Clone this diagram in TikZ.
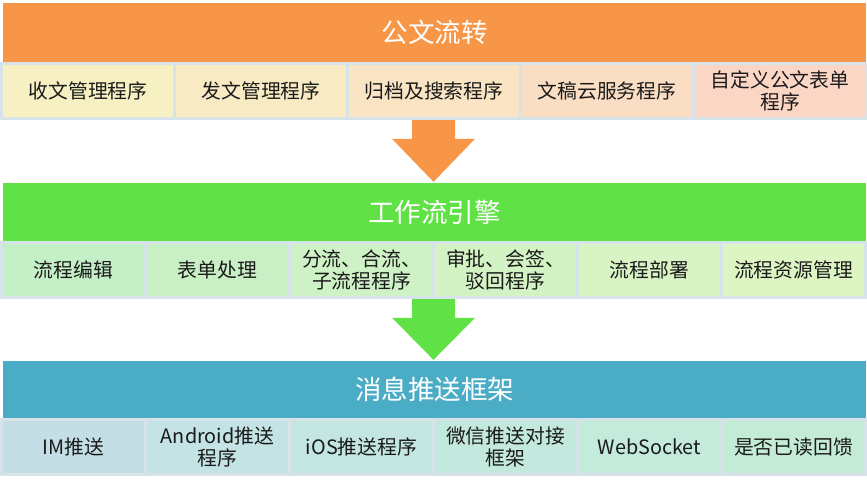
\documentclass[tikz,border=0pt]{standalone}
\usepackage{fontspec}
\setmainfont{Noto Sans CJK SC}
\usetikzlibrary{calc}

\definecolor{hdorange}{HTML}{F79646}
\definecolor{hdgreen}{HTML}{60E246}
\definecolor{hdblue}{HTML}{4BACC6}
\definecolor{edgeblue}{HTML}{D6E3E8}
\definecolor{txtdark}{HTML}{1A1A1A}

\tikzset{
    head/.style={minimum width=863pt, minimum height=59pt, inner sep=0pt,
        text=white, font=\fontsize{26.5}{30}\selectfont},
    band/.style={fill=edgeblue, minimum width=867pt, inner sep=0pt},
    cell/.style={draw=edgeblue, line width=3pt, minimum height=55pt, inner sep=0pt,
        align=center, text=txtdark, font=\fontsize{19.8}{22}\selectfont},
    wide/.style={cell, minimum width=173pt},
    narrow/.style={cell, minimum width=144pt},
}

\begin{document}
\begin{tikzpicture}[x=1pt, y=-1pt]
    \useasboundingbox (0,0) rectangle (867,484);

    % 公文流转
    \node[head, fill=hdorange] (hd1) at (434.5,32.5) {公文流转};
    \node[band, minimum height=58pt] (row1) at (433.5,91) {};
    \node[wide, fill={rgb,255:red,246;green,240;blue,194}] (gw1) at (88,91) {收文管理程序};
    \node[wide, fill={rgb,255:red,248;green,235;blue,195}] (gw2) at (261,91) {发文管理程序};
    \node[wide, fill={rgb,255:red,249;green,228;blue,195}] (gw3) at (434,91) {归档及搜索程序};
    \node[wide, fill={rgb,255:red,250;green,222;blue,196}] (gw4) at (607,91) {文稿云服务程序};
    \node[wide, fill={rgb,255:red,251;green,214;blue,197}] (gw5) at (780,91) {自定义公文表单\\程序};

    % 工作流引擎
    \node[head, fill=hdgreen] (hd2) at (434.5,212.5) {工作流引擎};
    \node[band, minimum height=58pt] (row2) at (433.5,270) {};
    \node[narrow, fill={rgb,255:red,197;green,239;blue,198}] (wf1) at (73.5,270) {流程编辑};
    \node[narrow, fill={rgb,255:red,201;green,240;blue,197}] (wf2) at (217.5,270) {表单处理};
    \node[narrow, fill={rgb,255:red,206;green,241;blue,197}] (wf3) at (361.5,270) {分流、合流、\\子流程程序};
    \node[narrow, fill={rgb,255:red,211;green,243;blue,196}] (wf4) at (505.5,270) {审批、会签、\\驳回程序};
    \node[narrow, fill={rgb,255:red,216;green,244;blue,196}] (wf5) at (649.5,270) {流程部署};
    \node[narrow, fill={rgb,255:red,221;green,245;blue,195}] (wf6) at (793.5,270) {流程资源管理};

    % 消息推送框架
    \node[head, fill=hdblue, minimum height=57pt] (hd3) at (434.5,389.5) {消息推送框架};
    \node[band, minimum height=58pt] (row3) at (433.5,447) {};
    \node[narrow, fill={rgb,255:red,196;green,222;blue,230}] (ms1) at (73.5,447) {IM推送};
    \node[narrow, fill={rgb,255:red,195;green,227;blue,228}] (ms2) at (217.5,447) {Android推送\\程序};
    \node[narrow, fill={rgb,255:red,195;green,230;blue,226}] (ms3) at (361.5,447) {iOS推送程序};
    \node[narrow, fill={rgb,255:red,195;green,232;blue,222}] (ms4) at (505.5,447) {微信推送对接\\框架};
    \node[narrow, fill={rgb,255:red,195;green,234;blue,219}] (ms5) at (649.5,447) {WebSocket};
    \node[narrow, fill={rgb,255:red,196;green,235;blue,214}] (ms6) at (793.5,447) {是否已读回馈};

    % block arrows
    \fill[hdorange] ($(row1.south)+(-21.5,0)$) -- ($(row1.south)+(21.5,0)$)
        -- ($(hd2.north)+(20.5,-44)$) -- ($(hd2.north)+(40.5,-44)$) -- ($(hd2.north)+(-1,-1)$)
        -- ($(hd2.north)+(-42.5,-44)$) -- ($(hd2.north)+(-22.5,-44)$) -- cycle;
    \fill[hdgreen] ($(row2.south)+(-21.5,0)$) -- ($(row2.south)+(21.5,0)$)
        -- ($(hd3.north)+(20.5,-43)$) -- ($(hd3.north)+(40.5,-43)$) -- ($(hd3.north)+(-1,-1)$)
        -- ($(hd3.north)+(-42.5,-43)$) -- ($(hd3.north)+(-22.5,-43)$) -- cycle;
\end{tikzpicture}
\end{document}
